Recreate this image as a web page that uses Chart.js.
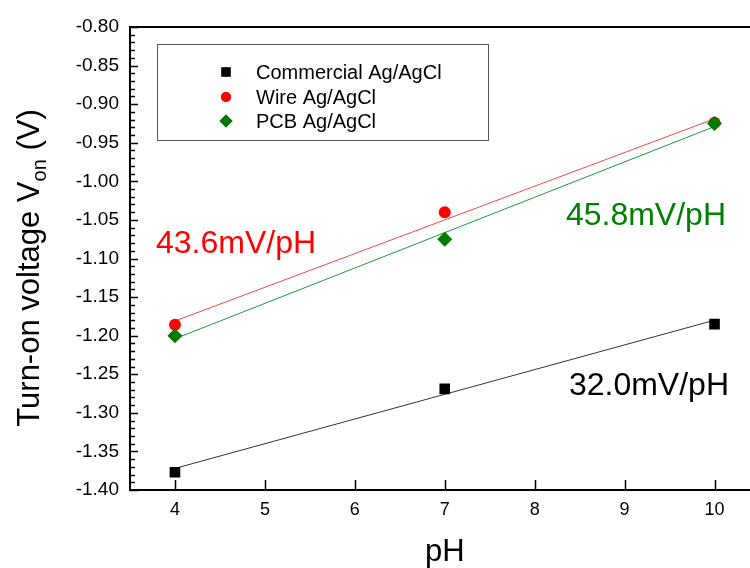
<!DOCTYPE html>
<html>
<head>
<meta charset="utf-8">
<script src="https://cdn.jsdelivr.net/npm/chart.js@4"></script>
<style>
  html, body { margin: 0; padding: 0; background: #fff; overflow: hidden; }
  #wrap { width: 750px; height: 568px; overflow: hidden; }
</style>
</head>
<body>
<div id="wrap"><canvas id="phChart" width="758" height="568"></canvas></div>
<script>
// pH values where the turn-on voltage was measured
const phValues = [4, 7, 10];

// Turn-on voltage Von (V) per reference electrode
const commercialVon = [-1.377, -1.269, -1.185];
const wireVon = [-1.186, -1.040, -0.924];
const pcbVon = [-1.200, -1.075, -0.925];

// Linear fit end points
const fitPh = [4, 10];
const commercialFit = [-1.372, -1.180];
const wireFit = [-1.181, -0.919];
const pcbFit = [-1.204, -0.929];

// Axis ticks
const xTicks = [4, 5, 6, 7, 8, 9, 10];
const yTicks = [-1.40, -1.35, -1.30, -1.25, -1.20, -1.15, -1.10, -1.05, -1.00, -0.95, -0.90, -0.85, -0.80];

// Sensitivity labels
const slopeLabels = ['43.6mV/pH', '45.8mV/pH', '32.0mV/pH'];
const seriesNames = ['Commercial Ag/AgCl', 'Wire Ag/AgCl', 'PCB Ag/AgCl'];

const FONT = '"Liberation Sans", Arial, Helvetica, sans-serif';

const toPoints = (xs, ys) => xs.map((x, i) => ({ x: x, y: ys[i] }));

// Draws inside ticks, top frame line, axis titles, slope labels and the legend box
const decorPlugin = {
  id: 'decor',
  afterDraw(chart) {
    const ctx = chart.ctx;
    const area = chart.chartArea;
    const xs = chart.scales.x;
    const ys = chart.scales.y;

    ctx.save();
    ctx.strokeStyle = '#000';

    // top frame line
    ctx.lineWidth = 2;
    ctx.beginPath();
    ctx.moveTo(area.left, area.top);
    ctx.lineTo(area.right, area.top);
    ctx.stroke();

    // y ticks (major + minor), pointing inside
    ctx.lineWidth = 1.5;
    for (let i = 0; i < yTicks.length; i++) {
      const py = Math.round(ys.getPixelForValue(yTicks[i])) + 0.5;
      ctx.beginPath();
      ctx.moveTo(area.left, py);
      ctx.lineTo(area.left + 8, py);
      ctx.stroke();
      if (i < yTicks.length - 1) {
        for (let k = 1; k < 5; k++) {
          const v = yTicks[i] + (yTicks[i + 1] - yTicks[i]) * k / 5;
          const pm = Math.round(ys.getPixelForValue(v)) + 0.5;
          ctx.beginPath();
          ctx.moveTo(area.left, pm);
          ctx.lineTo(area.left + 5, pm);
          ctx.stroke();
        }
      }
    }

    // x ticks, pointing inside
    xTicks.forEach(v => {
      const px = Math.round(xs.getPixelForValue(v)) + 0.5;
      ctx.beginPath();
      ctx.moveTo(px, area.bottom);
      ctx.lineTo(px, area.bottom - 10);
      ctx.stroke();
    });

    // x axis title
    ctx.fillStyle = '#000';
    ctx.font = '31px ' + FONT;
    ctx.textAlign = 'center';
    ctx.textBaseline = 'alphabetic';
    ctx.fillText('pH', xs.getPixelForValue(7), 561);

    // y axis title with subscript
    const mainTxt = 'Turn-on voltage V';
    const subTxt = 'on';
    const tailTxt = ' (V)';
    ctx.font = '31px ' + FONT;
    const wMain = ctx.measureText(mainTxt).width;
    const wTail = ctx.measureText(tailTxt).width;
    ctx.font = '20px ' + FONT;
    const wSub = ctx.measureText(subTxt).width;
    const total = wMain + wSub + wTail;
    ctx.translate(28, 268);
    ctx.rotate(-Math.PI / 2);
    ctx.textAlign = 'left';
    let sx = -total / 2;
    ctx.font = '31px ' + FONT;
    ctx.fillText(mainTxt, sx, 11);
    sx += wMain;
    ctx.font = '20px ' + FONT;
    ctx.fillText(subTxt, sx, 18);
    sx += wSub;
    ctx.font = '31px ' + FONT;
    ctx.fillText(tailTxt, sx, 11);
    ctx.setTransform(1, 0, 0, 1, 0, 0);

    // slope labels
    ctx.font = '32px ' + FONT;
    ctx.textAlign = 'left';
    ctx.fillStyle = '#ff0000';
    ctx.fillText(slopeLabels[0], 156, 253);
    ctx.textAlign = 'right';
    ctx.fillStyle = '#008000';
    ctx.fillText(slopeLabels[1], 726, 225);
    ctx.fillStyle = '#000';
    ctx.fillText(slopeLabels[2], 729, 395);

    // legend box
    ctx.strokeStyle = '#555';
    ctx.lineWidth = 1;
    ctx.strokeRect(157.5, 44.5, 331, 96);
    const rows = [72, 97, 121];
    const pointSets = [chart.data.datasets[0], chart.data.datasets[1], chart.data.datasets[2]];
    ctx.font = '20px ' + FONT;
    ctx.textAlign = 'left';
    ctx.textBaseline = 'middle';
    pointSets.forEach((ds, i) => {
      ctx.fillStyle = ds.backgroundColor;
      ctx.strokeStyle = ds.borderColor;
      Chart.helpers.drawPoint(ctx, {
        pointStyle: ds.pointStyle,
        radius: ds.pointRadius - 1,
        borderWidth: 0,
        rotation: 0
      }, 226, rows[i]);
      ctx.fill();
      ctx.fillStyle = '#000';
      ctx.fillText(seriesNames[i], 256, rows[i] + 1);
    });

    ctx.restore();
  }
};

const ctx = document.getElementById('phChart').getContext('2d');

new Chart(ctx, {
  type: 'scatter',
  data: {
    datasets: [
      {
        label: seriesNames[0],
        data: toPoints(phValues, commercialVon),
        pointStyle: 'rect',
        pointRadius: 7.5,
        backgroundColor: '#000',
        borderColor: '#000',
        borderWidth: 0,
        order: 2
      },
      {
        label: seriesNames[1],
        data: toPoints(phValues, wireVon),
        pointStyle: 'circle',
        pointRadius: 6,
        backgroundColor: '#ff0000',
        borderColor: '#ff0000',
        borderWidth: 0,
        order: 1
      },
      {
        label: seriesNames[2],
        data: toPoints(phValues, pcbVon),
        pointStyle: 'rectRot',
        pointRadius: 7.5,
        backgroundColor: '#007a00',
        borderColor: '#007a00',
        borderWidth: 0,
        order: 0
      },
      {
        label: 'fit commercial',
        data: toPoints(fitPh, commercialFit),
        showLine: true,
        pointRadius: 0,
        borderColor: '#333',
        borderWidth: 1,
        order: 3
      },
      {
        label: 'fit wire',
        data: toPoints(fitPh, wireFit),
        showLine: true,
        pointRadius: 0,
        borderColor: '#f04848',
        borderWidth: 1,
        order: 3
      },
      {
        label: 'fit pcb',
        data: toPoints(fitPh, pcbFit),
        showLine: true,
        pointRadius: 0,
        borderColor: '#1f9a3f',
        borderWidth: 1,
        order: 3
      }
    ]
  },
  options: {
    responsive: false,
    animation: false,
    layout: {
      padding: { top: 27, right: 0, left: 0, bottom: 0 }
    },
    scales: {
      x: {
        type: 'linear',
        min: 3.5,
        max: 10.4,
        grid: { display: false, drawTicks: false },
        border: { display: true, color: '#000', width: 2 },
        afterBuildTicks: scale => {
          scale.ticks = xTicks.map(v => ({ value: v }));
        },
        afterFit: scale => {
          scale.height = 78;
        },
        ticks: {
          color: '#000',
          padding: 9,
          font: { family: FONT, size: 18 },
          callback: v => String(v)
        }
      },
      y: {
        type: 'linear',
        min: -1.40,
        max: -0.80,
        grid: { display: false, drawTicks: false },
        border: { display: true, color: '#000', width: 2 },
        afterBuildTicks: scale => {
          scale.ticks = yTicks.map(v => ({ value: v }));
        },
        afterFit: scale => {
          scale.width = 130;
        },
        ticks: {
          color: '#000',
          padding: 11,
          font: { family: FONT, size: 19 },
          callback: v => Number(v).toFixed(2)
        }
      }
    },
    plugins: {
      legend: { display: false },
      tooltip: { enabled: false }
    }
  },
  plugins: [decorPlugin]
});
</script>
</body>
</html>
